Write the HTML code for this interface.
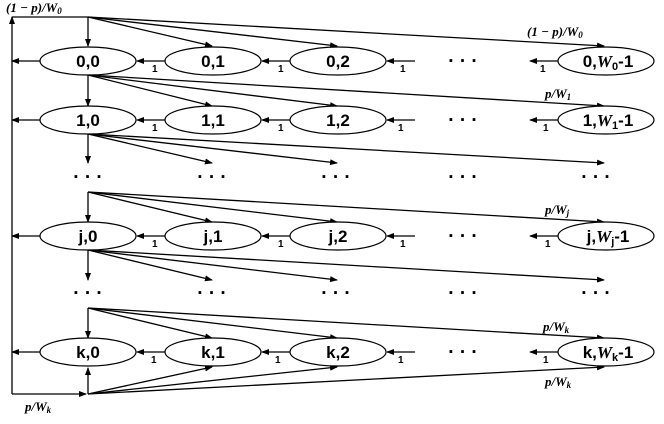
<!DOCTYPE html>
<html><head><meta charset="utf-8"><style>
html,body{margin:0;padding:0;background:#fff;width:664px;height:424px;overflow:hidden}
svg{display:block}
.n{font-family:"Liberation Sans",sans-serif;font-weight:bold;font-size:17px;text-anchor:middle}
.o{font-family:"Liberation Sans",sans-serif;font-weight:bold;font-size:10px}
.m{font-family:"Liberation Serif",serif;font-weight:bold;font-style:italic;font-size:13px}
.d{font-family:"Liberation Sans",sans-serif;font-weight:bold;font-size:19px;text-anchor:middle}
</style></head><body>
<svg id="s" width="664" height="424" viewBox="0 0 664 424">
<defs><marker id="a" markerWidth="8" markerHeight="6" refX="7" refY="3" orient="auto" markerUnits="userSpaceOnUse"><path d="M0,0L8,3L0,6z" fill="#000"/></marker></defs>
<g id="L" stroke="#000" stroke-width="1.3" fill="none"></g>
<g fill="#fff" stroke="#000" stroke-width="1.2">
<ellipse cx="88" cy="61" rx="48" ry="14"/><ellipse cx="213" cy="61" rx="48" ry="14"/><ellipse cx="338" cy="61" rx="48" ry="14"/><ellipse cx="606" cy="61" rx="48" ry="14"/>
<ellipse cx="88" cy="120" rx="48" ry="14"/><ellipse cx="213" cy="120" rx="48" ry="14"/><ellipse cx="338" cy="120" rx="48" ry="14"/><ellipse cx="606" cy="120" rx="48" ry="14"/>
<ellipse cx="88" cy="236" rx="48" ry="14"/><ellipse cx="213" cy="236" rx="48" ry="14"/><ellipse cx="338" cy="236" rx="48" ry="14"/><ellipse cx="606" cy="236" rx="48" ry="14"/>
<ellipse cx="88" cy="352" rx="48" ry="14"/><ellipse cx="213" cy="352" rx="48" ry="14"/><ellipse cx="338" cy="352" rx="48" ry="14"/><ellipse cx="606" cy="352" rx="48" ry="14"/>
</g>
<g class="n">
<text x="88" y="67">0,0</text><text x="213" y="67">0,1</text><text x="338" y="67">0,2</text><text x="608" y="67">0,<tspan font-style="italic" font-family="Liberation Serif">W</tspan><tspan font-size="11" dy="3">0</tspan><tspan dy="-3">-1</tspan></text>
<text x="88" y="126">1,0</text><text x="213" y="126">1,1</text><text x="338" y="126">1,2</text><text x="608" y="126">1,<tspan font-style="italic" font-family="Liberation Serif">W</tspan><tspan font-size="11" dy="3">1</tspan><tspan dy="-3">-1</tspan></text>
<text x="88" y="242">j,0</text><text x="213" y="242">j,1</text><text x="338" y="242">j,2</text><text x="608" y="242">j,<tspan font-style="italic" font-family="Liberation Serif">W</tspan><tspan font-size="11" dy="3">j</tspan><tspan dy="-3">-1</tspan></text>
<text x="88" y="358">k,0</text><text x="213" y="358">k,1</text><text x="338" y="358">k,2</text><text x="608" y="358">k,<tspan font-style="italic" font-family="Liberation Serif">W</tspan><tspan font-size="11" dy="3">k</tspan><tspan dy="-3">-1</tspan></text>
</g>
<g class="o">
<text x="152" y="72">1</text><text x="278" y="72">1</text><text x="400" y="72">1</text><text x="540" y="72">1</text>
<text x="152" y="131">1</text><text x="278" y="131">1</text><text x="398" y="131">1</text><text x="543" y="131">1</text>
<text x="152" y="247">1</text><text x="278" y="247">1</text><text x="400" y="247">1</text><text x="545" y="247">1</text>
<text x="151" y="363">1</text><text x="275" y="363">1</text><text x="398" y="363">1</text><text x="543" y="363">1</text>
</g>
<g class="d">
<text x="463" y="67">· · ·</text><text x="463" y="126">· · ·</text><text x="463" y="242">· · ·</text><text x="463" y="358">· · ·</text>
<text x="88" y="183">· · ·</text><text x="212" y="183">· · ·</text><text x="336" y="183">· · ·</text><text x="463" y="183">· · ·</text><text x="596" y="183">· · ·</text>
<text x="88" y="299">· · ·</text><text x="212" y="299">· · ·</text><text x="336" y="299">· · ·</text><text x="463" y="299">· · ·</text><text x="596" y="299">· · ·</text>
</g>
<g class="m">
<text x="6" y="12">(1 − p)/W<tspan font-size="9" dy="2">0</tspan></text>
<text x="527" y="36">(1 − p)/W<tspan font-size="9" dy="2">0</tspan></text>
<text x="545" y="98">p/W<tspan font-size="9" dy="2">1</tspan></text>
<text x="545" y="214">p/W<tspan font-size="9" dy="2">j</tspan></text>
<text x="543" y="331">p/W<tspan font-size="9" dy="2">k</tspan></text>
<text x="545" y="386">p/W<tspan font-size="9" dy="2">k</tspan></text>
<text x="25" y="411">p/W<tspan font-size="9" dy="2">k</tspan></text>
</g>
</svg>
<script>
var g=document.getElementById('L'),NS='http://www.w3.org/2000/svg';
function l(x1,y1,x2,y2,arr){var e=document.createElementNS(NS,'line');e.setAttribute('x1',x1);e.setAttribute('y1',y1);e.setAttribute('x2',x2);e.setAttribute('y2',y2);if(arr!==false)e.setAttribute('marker-end','url(#a)');g.appendChild(e);}
l(12,394,12,17);l(12,17,88,17,false);l(12,394,86,394);
var fans=[[17,46],[75,106],[134,163],[250,280],[192,222],[308,338]];
fans.forEach(function(f){l(88,f[0],88,f[1]);l(88,f[0],212,f[1]);l(88,f[0],337,f[1]);l(88,f[0],604,f[1]);});
l(88,394,88,368);l(88,394,212,367);l(88,394,337,367);l(88,394,604,367);
[61,120,236,352].forEach(function(y){l(40,y,12,y);l(165,y,137,y);l(290,y,262,y);l(415,y,387,y);l(558,y,530,y);});
</script>
</body></html>
